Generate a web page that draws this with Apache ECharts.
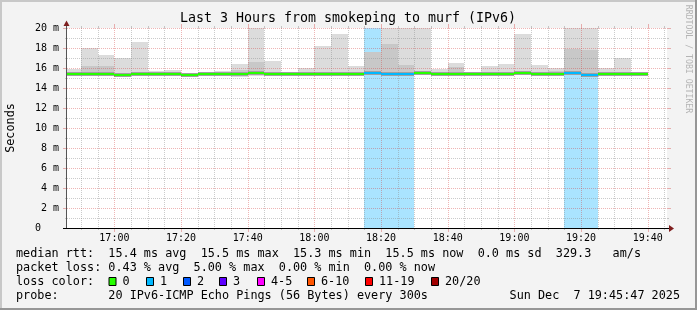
<!DOCTYPE html>
<html><head><meta charset="utf-8">
<script src="https://cdn.jsdelivr.net/npm/echarts@6/dist/echarts.min.js"></script>
<style>html,body{margin:0;padding:0;background:#f3f3f3}#c{width:697px;height:310px}</style>
</head><body><div id="c"></div>
<script>
// ---- data ----
const startTime = '16:45:47';
const endTime = '19:45:47';
const stepEnds = ['16:50','16:55','17:00','17:05','17:10','17:15','17:20','17:25','17:30','17:35',
  '17:40','17:45','17:50','17:55','18:00','18:05','18:10','18:15','18:20','18:25',
  '18:30','18:35','18:40','18:45','18:50','18:55','19:00','19:05','19:10','19:15',
  '19:20','19:25','19:30','19:35','19:40'];
const medianMs = [15.4,15.4,15.45,15.3,15.45,15.4,15.45,15.3,15.4,15.4,
  15.45,15.5,15.45,15.4,15.4,15.4,15.4,15.4,15.5,15.45,
  15.4,15.5,15.4,15.45,15.4,15.4,15.4,15.5,15.4,15.45,
  15.5,15.3,15.4,15.45,15.45];
const smokeMaxMs = [15.9,18.0,17.3,17.0,18.6,15.7,15.85,15.5,15.6,15.7,
  16.4,20.5,16.75,15.6,16.0,18.25,19.45,16.25,17.6,20.5,
  20.5,20.5,15.95,16.55,15.65,16.25,16.45,19.45,16.3,16.05,
  20.5,20.5,16.0,17.0,15.55];
const smokeMidMs = [15.65,16.25,16.25,15.5,15.6,15.5,15.65,15.4,15.45,15.5,
  15.8,16.65,15.6,15.45,15.5,15.6,15.6,15.55,17.6,18.45,
  16.35,15.75,15.6,16.15,15.5,15.6,15.6,15.6,15.6,15.7,
  17.95,17.8,15.6,15.55,15.5];
const smokeMinMs = [15.3,15.2,15.3,15.1,15.3,15.3,15.3,15.15,15.3,15.3,
  15.15,15.25,15.25,15.3,15.3,15.3,15.3,15.3,15.3,15.3,
  15.3,15.3,15.3,15.3,15.3,15.3,15.3,15.3,15.3,15.3,
  15.3,15.2,15.3,15.3,15.3];
const lossCount = [0,0,0,0,0,0,0,0,0,0,
  0,0,0,0,0,0,0,0,1,1,
  1,0,0,0,0,0,0,0,0,0,
  1,1,0,0,0];
const xTickLabels = ['17:00','17:20','17:40','18:00','18:20','18:40','19:00','19:20','19:40'];
const yTickValues = [0,2,4,6,8,10,12,14,16,18,20];
const lossLegendLabels = ['0','1','2','3','4-5','6-10','11-19','20/20'];
const lossLegendColors = ['#26ff00','#00b8ff','#0059ff','#5e00ff','#ff00ff','#ff5500','#ff0000','#a10000'];
const legendLines = [
  'median rtt:  15.4 ms avg  15.5 ms max  15.3 ms min  15.5 ms now  0.0 ms sd  329.3   am/s',
  'packet loss: 0.43 % avg  5.00 % max  0.00 % min  0.00 % now',
  'loss color:',
  'probe:       20 IPv6-ICMP Echo Pings (56 Bytes) every 300s'
];
const dateText = 'Sun Dec  7 19:45:47 2025';
const titleText = 'Last 3 Hours from smokeping to murf (IPv6)';

// ---- helpers ----
const T = s => { const p = s.split(':').map(Number); return p[0]*3600 + p[1]*60 + (p[2]||0); };
const T0 = T(startTime), T1 = T(endTime);
const fmt = v => { const h = Math.floor(v/3600), m = Math.floor((v%3600)/60); return String(h).padStart(2,'0')+':'+String(m).padStart(2,'0'); };
const lossIdx = c => c<=0?0:c===1?1:c===2?2:c===3?3:c<=5?4:c<=10?5:c<=19?6:7;
const MONO = '"DejaVu Sans Mono", monospace';
const YMAX = 20;

const smokeRows = stepEnds.map((e,i)=>[Math.max(T(e)-300,T0), T(e), smokeMinMs[i], medianMs[i], smokeMidMs[i], smokeMaxMs[i], lossCount[i]]);
const lossRows = smokeRows.filter(r=>r[6]>0);
const xLabelValues = xTickLabels.map(T);
const gridRows = [];
for (let t = T('16:50'); t < T1; t += 300) gridRows.push([0, t, xLabelValues.includes(t)?1:0]);
for (let v = 1; v <= YMAX; v++) gridRows.push([1, v, yTickValues.includes(v)?1:0]);

const chart = echarts.init(document.getElementById('c'), null, {renderer:'canvas', width:697, height:310});

const MINOR = 'rgba(140,140,140,0.45)';
const MAJOR = 'rgba(210,60,60,0.38)';

const option = {
  animation:false,
  backgroundColor:'#f3f3f3',
  grid:{left:67, top:28, width:600, height:200, show:true, backgroundColor:'#ffffff', borderWidth:0},
  xAxis:{type:'value', min:T0, max:T1,
    axisLine:{show:false}, axisTick:{show:false}, splitLine:{show:false},
    axisLabel:{customValues:xLabelValues, formatter:fmt, fontFamily:MONO, fontSize:10, color:'#000', margin:5}},
  yAxis:{type:'value', min:0, max:YMAX, interval:2,
    axisLine:{show:false}, axisTick:{show:false}, splitLine:{show:false},
    axisLabel:{formatter:v=> v===0?'0   ':v+' m', fontFamily:MONO, fontSize:10, color:'#000', margin:8}},
  series:[
    { type:'custom', name:'loss', z:1, data:lossRows, encode:{x:[0,1], y:[2]},
      renderItem:(p,api)=>{
        const xa=Math.round(api.coord([api.value(0),0])[0]), xb=Math.round(api.coord([api.value(1),0])[0]);
        const y0=api.coord([0,0])[1], y1=api.coord([0,YMAX])[1];
        return {type:'rect', shape:{x:xa,y:y1,width:xb-xa,height:y0-y1}, style:{fill:'#aae4ff'}};
      }},
    { type:'custom', name:'smoke', z:2, data:smokeRows, encode:{x:[0,1], y:[2,5]}, clip:true,
      renderItem:(p,api)=>{
        const xa=Math.round(api.coord([api.value(0),0])[0]), xb=Math.round(api.coord([api.value(1),0])[0]);
        const y=v=>Math.round(api.coord([0,Math.min(v,YMAX)])[1]);
        const lo=api.value(2), med=api.value(3), mid=api.value(4), hi=api.value(5);
        const ym=y(med);
        return {type:'group', children:[
          {type:'rect', shape:{x:xa,y:y(hi),width:xb-xa,height:y(lo)-y(hi)}, style:{fill:'#dcdcdc'}},
          {type:'rect', shape:{x:xa,y:y(mid),width:xb-xa,height:ym-y(mid)}, style:{fill:'#c8c8c8'}},
          {type:'rect', shape:{x:xa,y:ym-2,width:xb-xa,height:4}, style:{fill:'#a0a0a0'}}
        ]};
      }},
    { type:'custom', name:'grid', z:3, data:gridRows, encode:{x:[1]}, clip:false, silent:true,
      renderItem:(p,api)=>{
        const o=api.value(0), v=api.value(1), major=api.value(2);
        const col = major?MAJOR:MINOR, ext = major?4:2;
        if (o===0) {
          const x=Math.round(api.coord([v,0])[0])+0.5, y0=api.coord([v,0])[1], y1=api.coord([v,YMAX])[1];
          return {type:'group', children:[
            {type:'line', shape:{x1:x,y1:y1,x2:x,y2:y0}, style:{stroke:col,lineWidth:1,lineDash:[1,1]}},
            {type:'line', shape:{x1:x,y1:y0,x2:x,y2:y0+ext}, style:{stroke:col,lineWidth:1}},
            {type:'line', shape:{x1:x,y1:y1-ext,x2:x,y2:y1}, style:{stroke:col,lineWidth:1}}
          ]};
        } else {
          const y=Math.round(api.coord([T0,v])[1])+0.5, x0=api.coord([T0,v])[0], x1=api.coord([T1,v])[0];
          return {type:'group', children:[
            {type:'line', shape:{x1:x0,y1:y,x2:x1,y2:y}, style:{stroke:col,lineWidth:1,lineDash:[1,1]}},
            {type:'line', shape:{x1:x0-ext,y1:y,x2:x0,y2:y}, style:{stroke:col,lineWidth:1}},
            {type:'line', shape:{x1:x1,y1:y,x2:x1+ext,y2:y}, style:{stroke:col,lineWidth:1}}
          ]};
        }
      }},
    { type:'custom', name:'median', z:4, data:smokeRows, encode:{x:[0,1], y:[3]},
      renderItem:(p,api)=>{
        const xa=Math.round(api.coord([api.value(0),0])[0]), xb=Math.round(api.coord([api.value(1),0])[0]);
        const ym=Math.round(api.coord([0,api.value(3)])[1]);
        return {type:'line', shape:{x1:xa,y1:ym,x2:xb,y2:ym}, style:{stroke:lossLegendColors[lossIdx(api.value(6))], lineWidth:2}};
      }}
  ],
  graphic:[]
};

const G = option.graphic;
const Z = 100;
G.push({type:'rect', z:Z, shape:{x:0,y:0,width:697,height:2}, style:{fill:'#c8c8c8'}});
G.push({type:'rect', z:Z, shape:{x:0,y:0,width:2,height:310}, style:{fill:'#c8c8c8'}});
G.push({type:'rect', z:Z, shape:{x:0,y:308,width:697,height:2}, style:{fill:'#969696'}});
G.push({type:'rect', z:Z, shape:{x:695,y:0,width:2,height:310}, style:{fill:'#969696'}});
G.push({type:'line', z:Z, shape:{x1:66.5,y1:25,x2:66.5,y2:228}, style:{stroke:'#555',lineWidth:1}});
G.push({type:'line', z:Z, shape:{x1:63,y1:228.5,x2:669,y2:228.5}, style:{stroke:'#000',lineWidth:1}});
G.push({type:'polygon', z:Z, shape:{points:[[63.5,26],[69.5,26],[66.5,20.5]]}, style:{fill:'#7f1f1f'}});
G.push({type:'polygon', z:Z, shape:{points:[[669,225],[669,232],[674,228.5]]}, style:{fill:'#7f1f1f'}});
G.push({type:'text', z:Z, x:348, y:19, style:{text:titleText, font:'13.3px '+MONO, fill:'#000', textAlign:'center', textVerticalAlign:'middle'}});
G.push({type:'text', z:Z, x:10.5, y:128, rotation:Math.PI/2, style:{text:'Seconds', font:'11.8px '+MONO, fill:'#000', textAlign:'center', textVerticalAlign:'middle'}});
G.push({type:'text', z:Z, x:688, y:59, rotation:-Math.PI/2, style:{text:'RRDTOOL / TOBI OETIKER', font:'8.2px '+MONO, fill:'#b4b4b4', textAlign:'center', textVerticalAlign:'middle'}});
const lineY = [254, 268, 282, 296];
legendLines.forEach((t,i)=>G.push({type:'text', z:Z, x:16, y:lineY[i], style:{text:t, font:'11.8px '+MONO, fill:'#000', textAlign:'left', textVerticalAlign:'middle'}}));
G.push({type:'text', z:Z, x:680, y:lineY[3], style:{text:dateText, font:'11.8px '+MONO, fill:'#000', textAlign:'right', textVerticalAlign:'middle'}});
const boxX = [108.5, 146, 183, 219, 257, 307, 365, 431];
lossLegendLabels.forEach((lab,i)=>{
  G.push({type:'rect', z:Z, shape:{x:boxX[i]+0.5,y:277.5,width:7,height:8}, style:{fill:lossLegendColors[i], stroke:'#000', lineWidth:1}});
  G.push({type:'text', z:Z, x:boxX[i]+14, y:lineY[2], style:{text:lab, font:'11.8px '+MONO, fill:'#000', textAlign:'left', textVerticalAlign:'middle'}});
});

chart.setOption(option);
</script></body></html>
